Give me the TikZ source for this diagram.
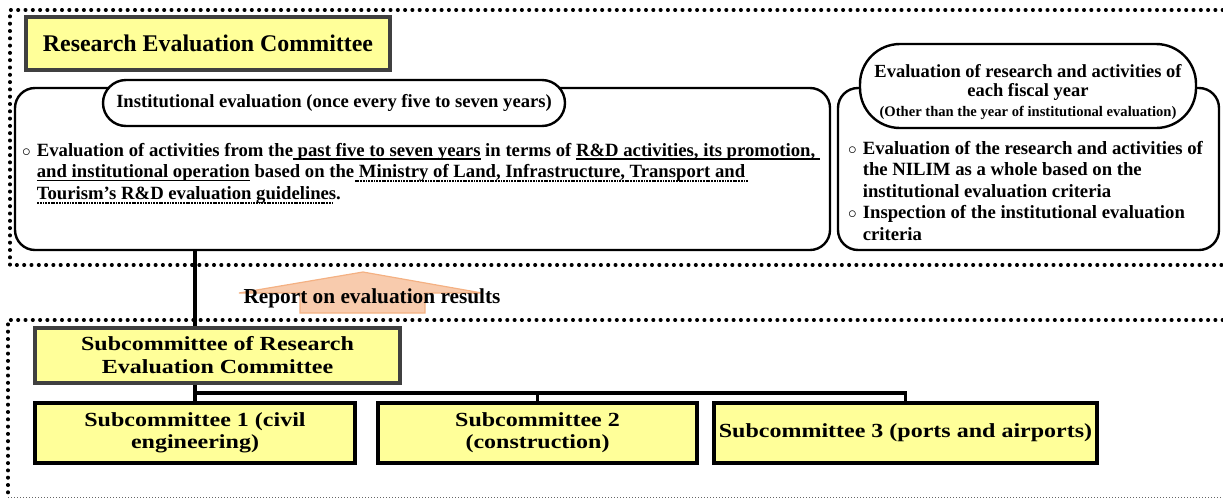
\documentclass[tikz,border=0pt]{standalone}
\usepackage{fontspec}
\setmainfont{Liberation Serif}
\newfontfamily\wideserif{Liberation Serif}[FakeStretch=1.2]
\usetikzlibrary{positioning}
\definecolor{boxyellow}{HTML}{FFFF99}
\definecolor{arrowfill}{HTML}{F8CBAD}
\definecolor{arrowedge}{HTML}{F4B183}
\newcommand{\fs}[2]{\fontsize{#1}{#2}\selectfont\bfseries}
\newcommand{\solidul}[1]{\setbox0\hbox{#1}\rlap{\rule[-3.4pt]{\wd0}{1.5pt}}\box0\relax}
\newcommand{\dotul}[1]{\setbox0\hbox{#1}\rlap{\raisebox{-4.4pt}{\hbox to \wd0{\leaders\hbox to 2.7pt{\hss\rule{1.8pt}{1.8pt}\hss}\hfill}}}\box0\relax}

\begin{document}
\begin{tikzpicture}[x=1pt,y=-1pt,
    dotframe/.style={line width=3.4pt,line cap=round,dash pattern=on 0.6pt off 6.7pt},
    thinframe/.style={line width=1pt,draw=black!60,dash pattern=on 1pt off 2pt},
    ybox/.style={draw=black!75,line width=4.5pt,fill=boxyellow,inner sep=0pt,align=center},
    sbox/.style={draw=black,line width=4.5pt,fill=boxyellow,inner sep=0pt,align=center},
    rbox/.style={draw=black,line width=2.4pt,fill=white,rounded corners=20pt,inner sep=0pt},
    oval/.style={draw=black,line width=2.4pt,fill=white,inner sep=0pt,align=center},
    conn/.style={line width=3.4pt,black}]
  \useasboundingbox (0,0) rectangle (1223,499);

  % frames
  \draw[dotframe] (1223,10) -- (10,10) -- (10,265) -- (1223,265);
  \draw[dotframe] (1223,320) -- (8,320) -- (8,499);
  \draw[thinframe] (8,497) -- (1223,497);

  % upper part
  \node[ybox,minimum width=364pt,minimum height=53pt,font=\fs{23.9}{28}] (rec) at (208,43.5)
    {Research Evaluation Committee};
  \node[rbox,minimum width=815pt,minimum height=162pt] (lbox) at (422.5,169) {};
  \node[rbox,minimum width=381pt,minimum height=162pt] (rbox) at (1028.5,169) {};
  \node[oval,rounded corners=23pt,minimum width=462pt,minimum height=46pt,font=\fs{18.6}{22}] (instoval) at (334,103)
    {Institutional evaluation (once every five to seven years)};
  \node[oval,rounded corners=40pt,minimum width=336pt,minimum height=84pt] (yearoval) at (1028,86) {};
  \node[align=center,inner sep=0pt,font=\fs{18.5}{19.5}] (yeartext) at (1028,92)
    {Evaluation of research and activities of\\
     each fiscal year\\
     \fs{14.6}{19.5}(Other than the year of institutional evaluation)};
  \node[anchor=west,inner sep=0pt,font=\fs{18.7}{21.5}] (ltext) at (22,173.5)
    {\begin{tabular}{@{}l@{\hspace{6pt}}l@{}}
      $\circ$ & Evaluation of activities from the\solidul{ past five to seven years} in terms of \solidul{R\&D activities, its promotion, }\\
      & \solidul{and institutional operation} based on the\dotul{ Ministry of Land, Infrastructure, Transport and }\\
      & \dotul{Tourism's R\&D evaluation guidelines}.
    \end{tabular}};
  \node[anchor=north west,inner sep=0pt,font=\fs{18.7}{21.5}] (rtext) at (848,139)
    {\begin{tabular}{@{}l@{\hspace{6pt}}l@{}}
      $\circ$ & Evaluation of the research and activities of\\
      & the NILIM as a whole based on the\\
      & institutional evaluation criteria\\
      $\circ$ & Inspection of the institutional evaluation\\
      & criteria
    \end{tabular}};

  % report arrow
  \draw[arrowedge,fill=arrowfill,line width=1.2pt] (300,313) -- (300,293) -- (239,293) -- (363,272)
    -- (482,293) -- (425,293) -- (425,313) -- cycle;
  \node[font=\fs{21.3}{24}] (report) at (372,298) {Report on evaluation results};

  % lower part
  \node[ybox,minimum width=365pt,minimum height=55pt,font=\wideserif\fs{20}{23}] (sub) at (217.5,355.5)
    {Subcommittee of Research\\Evaluation Committee};
  \node[sbox,minimum width=320pt,minimum height=60pt,font=\wideserif\fs{20}{22}] (s1) at (195,433)
    {Subcommittee 1 (civil\\engineering)};
  \node[sbox,minimum width=319pt,minimum height=60pt,font=\wideserif\fs{20}{22}] (s2) at (537.5,433)
    {Subcommittee 2\\(construction)};
  \node[sbox,minimum width=383pt,minimum height=60pt,font=\wideserif\fs{20}{22}] (s3) at (905.5,433)
    {Subcommittee 3 (ports and airports)};
  \coordinate (bar) at (192,393);

  % connectors
  \draw[conn] (lbox.south -| s1.north) -- (sub.north -| s1.north);
  \draw[conn] (sub.south -| s1.north) -- (s1.north);
  \draw[conn] (s1.north |- bar) -| (s3.north);
  \draw[conn] (s2.north |- bar) -- (s2.north);
\end{tikzpicture}
\end{document}
